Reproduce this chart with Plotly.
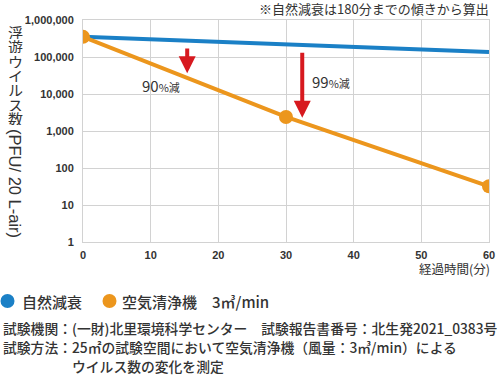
import plotly.graph_objects as go
import math

# ---- data ----
minutes_natural = [0, 60]
natural_decay = [350000, 136000]
minutes_purifier = [0, 30, 60]
purifier = [350000, 2400, 32]

y_tickvals = [1, 10, 100, 1000, 10000, 100000, 1000000]
y_ticktext = ["1", "10", "100", "1,000", "10,000", "100,000", "1,000,000"]
x_tickvals = [0, 10, 20, 30, 40, 50, 60]

series_names = ["自然減衰", "空気清浄機　3㎥/min"]
reduction_labels = ["90", "99"]
reduction_x = [15.4, 32.4]

note_top = "※自然減衰は180分までの傾きから算出"
y_title_upright = "浮遊ウイルス数"
y_title_rotated = "(PFU/ 20 L-air)"
x_title = "経過時間(分)"
foot_lines = [
    "試験機関：(一財)北里環境科学センター　試験報告書番号：北生発2021_0383号",
    "試験方法：25㎡の試験空間において空気清浄機（風量：3㎥/min）による",
    "ウイルス数の変化を測定",
]

BLUE = "#1b80c6"
ORANGE = "#ec961d"
RED = "#d7191f"
GRID = "#d2d2d2"
TXT = "#333333"
JP = "Noto Sans CJK JP"
NUM = "Liberation Sans"

W, H = 500, 377
L, R, T, B = 83, 11, 20, 135
pw, ph = W - L - R, H - T - B

def px(xp):  # pixel x -> paper
    return (xp - L) / pw

def py(yp):  # pixel y -> paper
    return (H - B - yp) / ph

fig = go.Figure()
fig.add_trace(go.Scatter(x=minutes_natural, y=natural_decay, mode="lines",
                         line=dict(color=BLUE, width=4), showlegend=False,
                         name=series_names[0]))
fig.add_trace(go.Scatter(x=minutes_purifier, y=purifier, mode="lines+markers",
                         line=dict(color=ORANGE, width=4),
                         marker=dict(color=ORANGE, size=14),
                         showlegend=False, name=series_names[1]))

def interp_log(xs, ys, x):
    for i in range(len(xs) - 1):
        if xs[i] <= x <= xs[i + 1]:
            t = (x - xs[i]) / (xs[i + 1] - xs[i])
            return math.log10(ys[i]) + t * (math.log10(ys[i + 1]) - math.log10(ys[i]))
    return math.log10(ys[-1])

annotations = []
shapes = []
# reduction arrows, from below blue line down to just above orange line
for i, (lab, xa) in enumerate(zip(reduction_labels, reduction_x)):
    top = interp_log(minutes_natural, natural_decay, xa) - 0.17
    tip = interp_log(minutes_purifier, purifier, xa) + 0.13
    annotations.append(dict(x=xa, y=tip, ax=xa, ay=top, xref="x", yref="y",
                            axref="x", ayref="y", text="", showarrow=True,
                            arrowhead=2, arrowwidth=4, arrowsize=0.85,
                            arrowcolor=RED, standoff=0))

annotations.append(dict(x=px(140), y=py(86), xref="paper", yref="paper",
                        xanchor="left", yanchor="middle", showarrow=False,
                        text=reduction_labels[0] + "<span style='font-size:11px'>%減</span>",
                        font=dict(family=JP, size=15, color=TXT)))
annotations.append(dict(x=px(310), y=py(81), xref="paper", yref="paper",
                        xanchor="left", yanchor="middle", showarrow=False,
                        text=reduction_labels[1] + "<span style='font-size:11px'>%減</span>",
                        font=dict(family=JP, size=15, color=TXT)))

# top note
annotations.append(dict(x=px(491), y=py(8), xref="paper", yref="paper",
                        xanchor="right", yanchor="middle", showarrow=False,
                        text=note_top, font=dict(family=JP, size=13, color=TXT)))
# x axis title
annotations.append(dict(x=px(492), y=py(268), xref="paper", yref="paper",
                        xanchor="right", yanchor="middle", showarrow=False,
                        text=x_title, font=dict(family=JP, size=12.5, color=TXT)))
# y title: upright CJK chars stacked
for k, ch in enumerate(y_title_upright):
    annotations.append(dict(x=px(15), y=py(32 + k * 14.3), xref="paper", yref="paper",
                            xanchor="center", yanchor="middle", showarrow=False,
                            height=14, text=ch, font=dict(family=JP, size=15, color=TXT)))
annotations.append(dict(x=px(15), y=py(183), xref="paper", yref="paper",
                        xanchor="center", yanchor="middle", showarrow=False,
                        textangle=90, text=y_title_rotated,
                        font=dict(family=NUM, size=16.5, color=TXT)))

# legend (circle + text)
leg_cx = [7.5, 109.5]
leg_tx = [20, 120]
leg_col = [BLUE, ORANGE]
for xc, xt, col, name in zip(leg_cx, leg_tx, leg_col, series_names):
    shapes.append(dict(type="circle", xref="paper", yref="paper",
                       xsizemode="pixel", ysizemode="pixel",
                       xanchor=px(xc), yanchor=py(301),
                       x0=-7, x1=7, y0=-7, y1=7,
                       fillcolor=col, line=dict(width=0)))
    annotations.append(dict(x=px(xt), y=py(301), xref="paper", yref="paper",
                            xanchor="left", yanchor="middle", showarrow=False,
                            text=name, font=dict(family=JP, size=15, color=TXT,
                                                 weight=500)))

# footnotes
foot_pos = [(1, 328), (1, 347), (70, 366)]
for (fx, fy), line in zip(foot_pos, foot_lines):
    annotations.append(dict(x=px(fx), y=py(fy), xref="paper", yref="paper",
                            xanchor="left", yanchor="middle", showarrow=False,
                            text=line, font=dict(family=JP, size=13.8, color=TXT,
                                                 weight=500)))

fig.update_layout(
    width=W, height=H,
    margin=dict(l=L, r=R, t=T, b=B, autoexpand=False),
    paper_bgcolor="white", plot_bgcolor="white",
    showlegend=False,
    annotations=annotations, shapes=shapes,
    xaxis=dict(range=[0, 60], tickvals=x_tickvals, showgrid=True, gridcolor=GRID,
               gridwidth=1, zeroline=False, showline=True, mirror=True,
               linecolor=GRID, linewidth=1, ticks="", ticklabelstandoff=3,
               automargin=False,
               tickfont=dict(family=NUM, size=11, color=TXT, weight="bold")),
    yaxis=dict(type="log", range=[0, 6], tickvals=y_tickvals, ticktext=y_ticktext,
               showgrid=True, gridcolor=GRID, gridwidth=1, zeroline=False,
               showline=True, mirror=True, linecolor=GRID, linewidth=1,
               ticks="", ticklabelstandoff=6, automargin=False,
               tickfont=dict(family=NUM, size=11, color=TXT, weight="bold")),
)

fig.write_html("out.html", config={"displayModeBar": False},
               post_script="document.body.style.margin='0';")
